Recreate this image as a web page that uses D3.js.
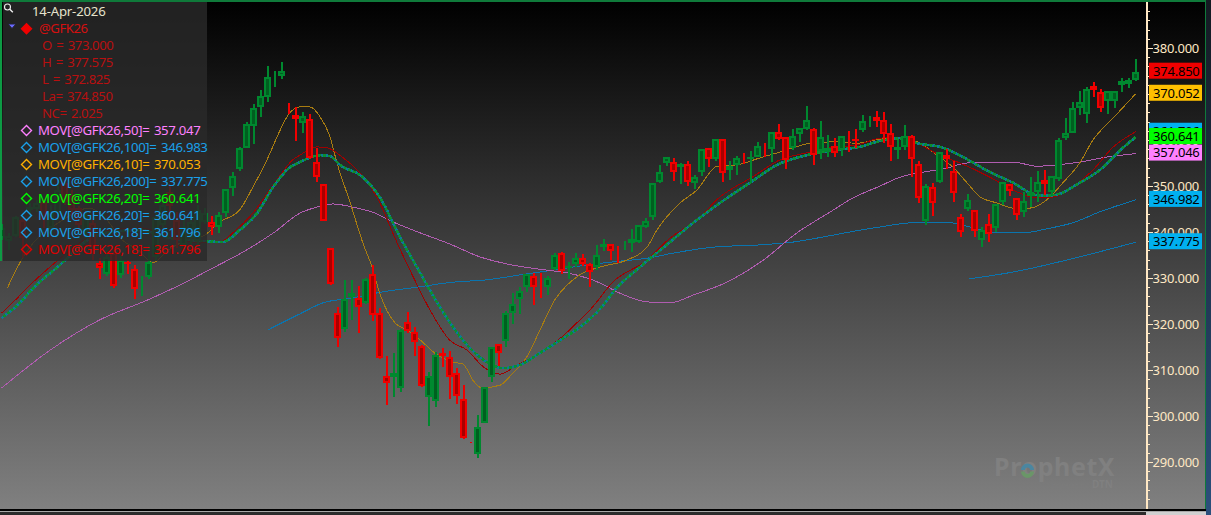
<!DOCTYPE html>
<html><head><meta charset="utf-8">
<script src="https://cdn.jsdelivr.net/npm/d3@7"></script>
<style>html,body{margin:0;padding:0;background:#000;overflow:hidden}svg{display:block}text{font-family:"Noto Sans","Open Sans",sans-serif}</style>
</head><body><svg id="c" width="1211" height="515"></svg>
<script>
const opens=[338.7,338.1,339.1,342.6,344.8,344.9,346.6,340.9,344.1,350.6,348.0,345.2,340.0,341.9,333.3,330.9,335.4,330.7,333.5,331.9,329.8,330.2,334.6,341.5,348.7,342.6,337.2,338.7,338.0,342.2,342.2,341.1,344.1,349.6,353.7,358.3,363.0,367.2,369.3,373.9,373.9,366.1,365.4,363.6,364.5,355.3,350.4,336.6,322.5,318.9,325.9,325.6,324.6,330.9,322.3,308.7,308.5,306.1,320.4,318.3,315.3,304.2,303.3,313.6,312.8,309.3,303.6,294.3,291.7,298.5,308.4,315.6,316.4,322.3,325.4,328.0,330.4,328.3,328.0,332.0,335.5,332.2,333.1,334.4,333.0,332.3,336.8,337.3,335.6,337.3,337.7,337.9,341.1,343.3,350.9,355.1,355.3,354.2,354.7,350.6,353.0,358.3,355.8,360.3,353.4,354.5,355.9,355.8,356.4,358.8,358.1,361.7,360.7,358.2,361.2,362.5,362.5,357.6,357.5,358.6,357.9,360.7,360.3,362.2,364.3,365.1,364.3,361.6,357.8,358.5,360.9,354.7,342.5,349.7,350.9,356.7,353.3,343.2,345.1,344.7,338.2,341.7,340.9,346.6,350.4,347.3,344.3,347.9,348.8,351.4,348.8,351.5,360.5,361.6,366.9,365.6,371.7,370.4,368.5,368.5,372.0,372.1,373.0];
const highs=[341.7,339.8,343.5,343.0,346.3,347.0,347.2,345.9,350.0,351.3,349.1,345.6,344.4,342.6,334.3,336.1,336.1,335.0,333.9,332.8,330.4,337.2,344.8,348.0,350.2,344.4,343.0,343.7,345.9,345.2,343.5,344.4,349.3,353.0,358.5,363.9,367.8,370.9,376.1,375.0,376.9,368.0,367.2,366.1,365.7,358.2,350.4,336.6,323.6,329.6,329.6,328.3,330.1,332.8,323.4,313.0,313.8,319.0,322.7,319.3,315.4,309.5,314.0,314.8,314.1,310.4,306.7,294.3,300.2,306.3,315.0,315.7,322.8,326.7,328.1,330.9,331.0,331.0,330.4,335.4,335.7,333.5,335.4,335.2,333.2,337.2,338.5,337.5,336.9,338.0,340.6,341.6,343.0,350.6,354.6,356.4,356.0,354.9,355.4,352.3,358.0,358.3,360.3,360.3,355.4,356.5,357.1,357.6,359.5,359.3,361.7,363.5,360.7,362.5,362.7,367.4,362.6,364.1,361.1,360.4,360.8,362.0,362.3,365.4,365.2,366.3,366.1,363.5,360.0,363.3,361.0,355.4,350.4,350.6,357.4,358.0,355.5,343.9,348.3,344.7,341.1,343.9,346.1,350.9,350.4,347.3,348.8,352.0,353.3,353.5,352.2,360.5,364.7,368.2,370.7,371.6,372.7,371.0,370.7,370.7,373.4,373.4,377.575];
const lows=[338.3,336.1,338.9,334.3,343.3,344.4,340.9,340.0,343.5,345.9,343.7,340.0,338.7,333.9,329.8,330.4,327.8,330.0,330.9,325.4,326.1,329.8,333.9,339.3,342.6,336.5,336.1,337.2,337.2,341.7,339.3,339.8,343.3,347.8,353.3,358.3,359.1,365.0,368.3,371.5,373.3,365.7,359.8,361.6,355.8,350.9,342.4,328.5,314.9,318.2,320.9,318.1,324.3,320.7,312.5,302.4,304.2,305.3,318.1,313.1,306.4,297.8,302.0,310.6,303.7,302.6,295.1,294.1,290.9,298.4,307.4,310.9,314.9,320.1,322.2,327.0,324.1,325.7,326.4,331.7,330.9,329.8,332.3,332.6,328.0,331.7,335.9,333.9,333.2,336.1,335.7,337.7,340.8,342.6,350.7,354.3,351.1,350.4,350.1,349.4,352.2,354.2,355.5,350.9,351.3,352.5,354.8,350.6,356.2,356.2,355.3,360.0,353.7,357.8,359.5,362.2,354.6,355.9,356.4,356.4,356.5,357.4,358.2,361.8,362.9,362.9,359.3,355.5,355.9,357.8,351.9,346.2,341.5,343.5,350.7,353.6,346.6,339.0,344.6,339.0,336.7,337.9,340.1,345.9,347.9,342.6,343.2,345.4,346.6,348.0,347.9,351.1,360.0,361.5,365.4,363.6,369.4,366.1,365.7,366.9,370.4,371.2,372.825];
const closes=[340.9,339.1,343.3,338.6,345.5,346.4,342.6,344.1,349.1,346.5,344.8,341.5,343.7,336.7,332.2,334.6,328.3,333.9,333.0,327.6,330.2,333.5,343.3,345.9,345.6,338.3,341.1,342.2,344.8,344.1,341.1,343.7,349.3,352.2,358.3,363.5,367.0,369.6,373.7,374.3,375.0,365.7,364.6,365.2,356.0,351.9,342.5,328.7,316.9,325.4,326.7,323.6,329.7,322.0,312.7,307.1,309.4,318.8,318.5,316.0,306.6,308.8,313.3,313.0,308.4,304.4,295.3,294.1,297.7,306.2,314.9,313.8,322.3,324.3,327.2,330.8,328.1,328.0,330.1,334.9,331.6,332.7,334.4,333.1,331.3,335.1,337.5,335.9,335.3,337.7,338.4,341.6,342.5,350.6,353.1,356.4,353.0,354.8,350.8,352.0,358.0,355.9,360.3,352.8,354.4,356.0,355.7,356.4,358.8,358.5,361.7,360.2,355.6,360.9,362.7,364.3,356.7,360.6,358.2,357.1,360.8,360.3,359.8,364.2,364.6,364.2,361.4,358.4,358.5,360.9,355.9,347.5,350.1,346.2,357.4,355.9,348.4,340.1,346.9,340.2,340.4,339.5,346.1,350.9,348.9,343.8,346.7,348.8,350.9,350.4,352.2,360.1,361.6,366.9,368.3,371.0,370.9,367.0,370.7,370.7,372.8,373.0,374.85];

const ma10Bars=[0.8,2.6,4.5,8.3,12.6,14.8,17.2,19.5,21.6,23.8,25.8,29,31.2,34,35.9,37.9,39.8,40.9,42.6,44,45.5,46.9,47.9,49.8,51.6,52.9,54,56.2,57.9,59.8,62.2,64.5,65.9,67.3,68.6,71.2,73,75,76.9,79,80.8,82.6,85.5,89.3,92.2,93.6,96.9,99.3,102.2,105,108.3,111.2,113,115.5,118.8,122.2,125.5,127.9,131.2,133.6,135.9,137.9,139.8,142.2,144.5,146.9,149.3,151.6,154,155.9,158.8,162];
const ma10Vals=[327.8,333.3,337.6,342.2,345.2,343.0,338.3,336.1,333.3,336.1,337.8,339.3,342.2,344.8,349.8,355.7,362.2,365.4,367.2,367.2,365.0,360.7,355.0,346.3,337.6,332.4,326.7,320.2,318.7,316.5,313.3,311.7,311.3,307.8,306.1,306.7,309.3,312.8,318.7,325.2,328.5,330.7,332.4,333.9,336.7,340.4,346.3,349.1,354.3,354.6,356.1,357.4,358.3,359.3,359.6,359.3,360.2,360.6,359.3,356.7,354.1,350.7,347.6,346.3,345.2,345.2,347.0,350.7,355.0,360.0,364.8,370.053];
const ma18Bars=[0,2.2,3.6,6.9,12.3,15.5,19.8,24,28.3,31.2,33,35.9,38.8,41.6,42.6,45,46.5,48.8,51.2,53.6,56.5,58.8,61.2,64,66.5,68.8,71.2,73.6,76.9,79.8,82.6,84.3,87.3,92.2,95.5,99.3,102.6,107.3,111.2,115,118.3,122.2,125.5,128.3,130.8,134,136.9,141.2,144.5,147.9,150.2,153,155.9,158.8,162];
const ma18Vals=[322.4,325.6,327.8,332.4,338.7,340.4,340.9,339.1,337.6,337.8,339.8,344.1,350.2,355.7,356.7,358.5,358.3,356.1,352.8,347.6,337.6,330.2,323.0,316.5,314.3,310.7,309.1,311.1,313.7,316.9,320.9,323.5,329.1,333.9,338.7,342.6,347.6,352.0,355.7,357.2,358.3,358.9,360.4,360.6,359.3,356.7,355.0,351.9,349.1,347.4,347.6,349.8,353.5,358.5,361.796];
const ma20Bars=[0,2.6,4.5,8.3,12.3,15.5,19.8,24,29.3,31.6,34,36.5,38.8,41.2,42.6,45.5,46.9,48.3,51.5,54,56.9,59.3,62.6,65.5,68.3,71.6,74,76.9,79.8,82.6,85.5,87.6,91.2,95,98.8,102.6,106.9,110.8,115,118.8,122.6,125.5,128.3,130.8,134.5,137.3,141.2,144.5,147.9,150.2,154,156.9,159.8,162];
const ma20Vals=[321.3,324.6,327.8,332.8,338.3,340.0,340.4,338.7,338.0,337.8,340.4,344.1,349.8,354.1,355.2,356.7,356.5,354.6,352.0,347.6,338.9,332.4,323.7,317.2,312.8,310.4,311.1,313.7,316.5,319.3,323.3,327.4,332.4,337.2,342.0,346.3,350.7,354.6,356.7,357.8,358.5,359.8,360.4,359.3,358.3,356.3,353.0,350.7,348.0,348.0,350.7,353.5,357.8,360.641];
const ma50Bars=[0,6.9,14,20.8,25.5,30.2,35,39,42.6,45,47.3,50.2,53,55.9,59.8,64,68.3,73,77.9,80.8,85.5,88.3,92.2,95.5,98.8,103.6,108.8,113.6,118.3,121.6,125.5,128.3,131.6,135,137.9,144.5,147.9,150.8,154,157.9,162];
const ma50Vals=[306.1,314.3,320.9,325.2,328.5,332.2,336.1,340.0,344.1,345.4,346.1,345.4,344.3,342.2,339.8,337.4,334.6,332.8,331.7,331.1,328.9,326.7,324.8,324.6,326.3,329.1,333.9,339.8,344.3,347.4,350.0,351.9,353.0,353.9,355.0,355.2,354.3,354.6,355.2,356.3,357.047];
const ma100Bars=[38,42.6,45.9,49.8,54.5,59.3,64.5,69.3,75,78.8,82.6,87.3,92.2,95.9,101.6,108.3,113,118,122.6,125.5,130.2,135.5,138.8,142.6,145.9,149.3,153,156.9,162];
const ma100Vals=[318.7,322.2,324.6,325.6,327.0,328.0,329.1,329.6,330.9,331.7,332.6,333.5,334.3,335.4,336.7,337.2,337.8,339.1,340.4,341.1,342.0,342.0,340.9,339.8,339.8,340.7,342.0,344.4,346.983];
const ma200Bars=[138.2,144.5,154,162];
const ma200Vals=[329.8,331.3,334.6,337.775];

const priceTicks=[290,300,310,320,330,340,350,360,370,380];
const minorTicks=[282,284,286,288,292,294,296,298,302,304,306,308,312,314,316,318,322,324,326,328,332,334,336,338,342,344,346,348,352,354,356,358,362,364,366,368,372,374,376,378,382,384,386,388];
const tagValues=[374.850,370.052,361.796,360.641,357.046,346.982,337.775];
const tagColors=["#f00000","#ffc000","#00b0f0","#00ff00","#ff80ff","#00b0f0","#00b0f0"];
const ohlcLabels=["O = 373.000","H = 377.575","L = 372.825","La= 374.850","NC= 2.025"];
const legendRows=["MOV[@GFK26,50]= 357.047","MOV[@GFK26,100]= 346.983","MOV[@GFK26,10]= 370.053","MOV[@GFK26,200]= 337.775","MOV[@GFK26,20]= 360.641","MOV[@GFK26,20]= 360.641","MOV[@GFK26,18]= 361.796","MOV[@GFK26,18]= 361.796"];
const legendColors=["#ff80ff","#1aa0ea","#ffb000","#1aa0ea","#00ff00","#1aa0ea","#1aa0ea","#e00000"];

const svg=d3.select("#c");
const W=1211,H=515,axisX=1146;
const x=d3.scaleLinear().domain([0,162]).range([1.7,1135.7]);
const y=d3.scaleLinear().domain([380,290]).range([48,462]);
const defs=svg.append("defs");
const g=defs.append("linearGradient").attr("id","bg").attr("x1",0).attr("y1",0).attr("x2",0).attr("y2",1);
g.append("stop").attr("offset",0).attr("stop-color","#000");
g.append("stop").attr("offset",1).attr("stop-color","#808080");
const g2=defs.append("linearGradient").attr("id","side").attr("x1",0).attr("y1",0).attr("x2",0).attr("y2",1);
g2.append("stop").attr("offset",0).attr("stop-color","#141a22");
g2.append("stop").attr("offset",1).attr("stop-color","#2b4f7c");
defs.append("clipPath").attr("id","plot").append("rect").attr("x",0).attr("y",2).attr("width",axisX).attr("height",507);

svg.append("rect").attr("width",1206).attr("height",509).attr("fill","url(#bg)");
svg.append("rect").attr("x",1206).attr("width",5).attr("height",515).attr("fill","url(#side)");

const plot=svg.append("g").attr("clip-path","url(#plot)");
const line=d3.line().x(d=>x(d[0])).y(d=>y(d[1])).curve(d3.curveMonotoneX);
const pts=(b,v)=>b.map((d,i)=>[d,v[i]]);
const drawLine=(b,v,col,w,dash)=>plot.append("path").attr("d",line(pts(b,v))).attr("fill","none").attr("stroke",col).attr("stroke-width",w).attr("stroke-dasharray",dash||null).attr("shape-rendering","crispEdges");
drawLine(ma200Bars,ma200Vals,"#0a74ae",1);
drawLine(ma100Bars,ma100Vals,"#0a74ae",1);
drawLine(ma50Bars,ma50Vals,"#b05cb0",1);
drawLine(ma10Bars,ma10Vals,"#a87c10",1);
drawLine(ma18Bars,ma18Vals,"#a00000",1);
drawLine(ma20Bars,ma20Vals,"#0a8f30",2.6);
drawLine(ma20Bars,ma20Vals,"#0a7a98",2.6,"2 3");

const candles=opens.map((o,i)=>({i,o,h:highs[i],l:lows[i],c:closes[i]}));
const gc=plot.append("g").attr("shape-rendering","crispEdges");
const up=d=>d.c>=d.o;
gc.selectAll("line").data(candles).join("line")
 .attr("x1",d=>x(d.i)).attr("x2",d=>x(d.i)).attr("y1",d=>y(d.h)).attr("y2",d=>y(d.l))
 .attr("stroke",d=>up(d)?"#00882f":"#f00000").attr("stroke-width",2);
gc.selectAll("rect").data(candles).join("rect")
 .attr("x",d=>x(d.i)-2.25).attr("width",4.5)
 .attr("y",d=>y(Math.max(d.o,d.c))+1)
 .attr("height",d=>Math.max(y(Math.min(d.o,d.c))-y(Math.max(d.o,d.c))-2,0))
 .attr("fill",d=>up(d)?"#005f20":"#a80000")
 .attr("stroke",d=>up(d)?"#00882f":"#f00000").attr("stroke-width",2);

// axis
const axisCol="#ffe8c4";
const ax=svg.append("g").attr("transform",`translate(${axisX},0)`).attr("shape-rendering","crispEdges");
ax.call(d3.axisRight(y).tickValues(priceTicks).tickSize(6.5).tickFormat(d3.format(".3f")));
ax.select(".domain").remove();
ax.append("line").attr("x1",0.5).attr("x2",0.5).attr("y1",2).attr("y2",509).attr("stroke",axisCol).attr("stroke-width",2);
ax.selectAll(".tick line").attr("stroke",axisCol);
ax.selectAll(".tick text").attr("x",6.5).attr("fill",axisCol).attr("font-size",13).attr("font-family",'"Noto Sans"').attr("letter-spacing","-0.22").attr("shape-rendering",null);
ax.selectAll("line.minor").data(minorTicks).join("line").attr("class","minor")
 .attr("x1",1).attr("x2",3.5).attr("y1",d=>y(d)+.5).attr("y2",d=>y(d)+.5).attr("stroke",axisCol);

// tags
const tags=svg.append("g");
tagValues.forEach((v,i)=>{
 const t=tags.append("g").attr("transform",`translate(1149,${y(v)-9})`);
 t.append("rect").attr("width",53).attr("height",16).attr("fill",tagColors[i]);
 t.append("text").attr("x",4).attr("y",12.8).attr("fill","#000").attr("font-size",13).attr("letter-spacing","-0.22").text(d3.format(".3f")(v));
});

// legend
const leg=svg.append("g");
leg.append("rect").attr("x",3).attr("y",2).attr("width",204).attr("height",259).attr("fill","#2a2a2a").attr("fill-opacity",0.82);
const rowY=i=>16+17*i;
const fs=13.2;
leg.append("text").attr("x",32).attr("y",rowY(0)).attr("fill","#e6e2cc").attr("font-size",fs).attr("letter-spacing","-0.2").text("14-Apr-2026");
leg.append("text").attr("x",39).attr("y",rowY(1)).attr("fill","#d41010").attr("font-size",fs).attr("letter-spacing","-0.5").text("@GFK26");
ohlcLabels.forEach((s,i)=>leg.append("text").attr("x",42).attr("y",rowY(i+2)).attr("fill","#b81010").attr("font-size",fs).attr("letter-spacing","-0.45").attr("word-spacing",1.4).text(s));
const diamond=(cx,cy,col,fill)=>leg.append("path").attr("d",`M${cx-5},${cy}L${cx},${cy-5}L${cx+5},${cy}L${cx},${cy+5}Z`).attr("fill",fill?col:"none").attr("stroke",col).attr("stroke-width",1.4);
diamond(26.5,28.7,"#f00000",true);
legendRows.forEach((s,i)=>{
 const r=i+7;
 diamond(26.5,rowY(r)-4.5,legendColors[i],false);
 leg.append("text").attr("x",38).attr("y",rowY(r)).attr("fill",legendColors[i]).attr("font-size",fs).attr("letter-spacing","-0.34").attr("word-spacing",1.5).text(s);
});
leg.append("path").attr("d","M8,24L16,24L12,28.5Z").attr("fill","#6a6aff").attr("stroke","#223");
leg.append("circle").attr("cx",7.5).attr("cy",7).attr("r",3).attr("fill","none").attr("stroke","#eee").attr("stroke-width",1.1);
leg.append("line").attr("x1",9.8).attr("y1",9.3).attr("x2",12.8).attr("y2",12.3).attr("stroke","#eee").attr("stroke-width",1.4);

// watermark
const wm=svg.append("g");
wm.append("text").attr("x",994).attr("y",476).attr("fill","#808080").attr("font-size",25).attr("font-weight",700).attr("letter-spacing","0.6").text("ProphetX");
wm.append("path").attr("d","M1023,470a4.5,4.5 0 0 1 9,0").attr("fill","none").attr("stroke","#4a86a0").attr("stroke-width",4);
wm.append("path").attr("d","M1023,471.5a4.5,4.5 0 0 0 9,0").attr("fill","none").attr("stroke","#6a9668").attr("stroke-width",4);
wm.append("text").attr("x",1052).attr("y",488).attr("fill","#7c7c7c").attr("font-size",6.5).text("powered by");
wm.append("text").attr("x",1092).attr("y",488).attr("fill","#808080").attr("font-size",10).attr("font-weight",700).text("DTN");

// frame
const frame=svg.append("g").attr("shape-rendering","crispEdges");
frame.append("rect").attr("x",0).attr("y",0).attr("width",1206).attr("height",2).attr("fill","#0f7a3a");
frame.append("rect").attr("x",0).attr("y",0).attr("width",2).attr("height",261).attr("fill","#0d9a44");
frame.append("rect").attr("x",1205).attr("y",0).attr("width",1).attr("height",510).attr("fill","#0f7a3a");
frame.append("rect").attr("x",0).attr("y",509).attr("width",1206).attr("height",1.5).attr("fill","#000");
frame.append("rect").attr("x",0).attr("y",510.5).attr("width",1206).attr("height",1.5).attr("fill","#a8a8a8");
frame.append("rect").attr("x",0).attr("y",512).attr("width",1146).attr("height",3).attr("fill","#2c2c2c");
frame.append("rect").attr("x",1146).attr("y",512).attr("width",60).attr("height",3).attr("fill","#d0d0d0");
</script></body></html>
